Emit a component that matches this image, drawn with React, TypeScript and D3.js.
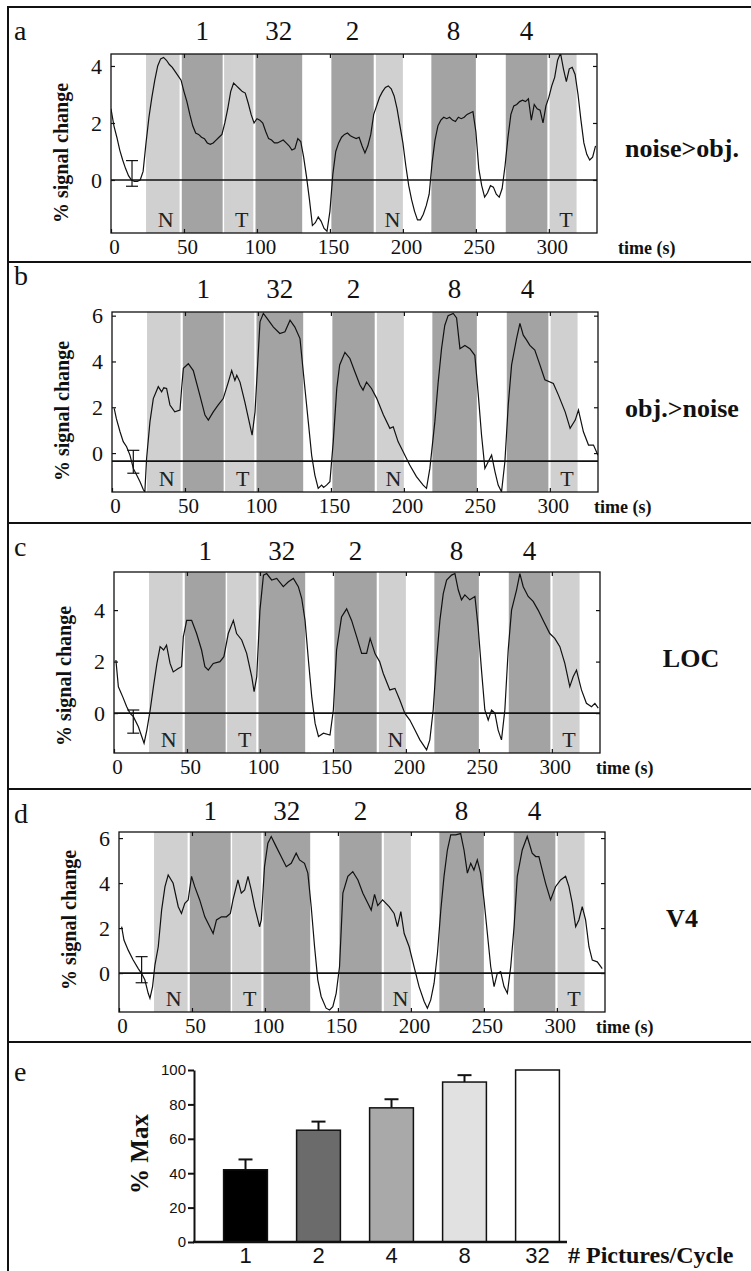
import React, { useEffect, useRef } from 'react';
import * as d3 from 'd3';

// stimulus epochs (seconds)
const timeMax = 333;
const timeTicks = [0, 50, 100, 150, 200, 250, 300];
const epochStart = [24, 48.5, 77.5, 99, 151, 181.5, 219.5, 270.5, 300.5];
const epochEnd = [47, 76.5, 97.5, 131, 180, 200, 250, 299, 319];
const epochType = ['light', 'dark', 'light', 'dark', 'dark', 'light', 'dark', 'dark', 'light'];
const epochLabel = ['N', '1', 'T', '32', '2', 'N', '8', '4', 'T'];

// time courses, [time (s), % signal change]
const traceA: [number, number][] = [
  [0, 2.5], [2, 1.9], [4, 1.5], [6, 1.05], [8, 0.7], [10, 0.4], [12, 0.15], [14, 0.0], [16, -0.05], [18, -0.05],
  [20, 0.0], [22, 0.3], [24, 1.3], [26, 2.2], [28, 2.9], [30, 3.5], [32, 4.0], [34, 4.25], [36, 4.3], [38, 4.2],
  [40, 4.05], [42, 3.95], [44, 3.8], [46, 3.65], [48, 3.5], [50, 3.1], [52, 2.75], [54, 2.3], [56, 1.9], [58, 1.65],
  [60, 1.6], [62, 1.5], [64, 1.45], [66, 1.3], [68, 1.25], [70, 1.3], [72, 1.4], [74, 1.5], [76, 1.6], [78, 2.0],
  [80, 2.5], [82, 3.1], [84, 3.4], [86, 3.3], [88, 3.2], [90, 3.1], [92, 3.05], [94, 2.7], [96, 2.3], [98, 2.0],
  [100, 2.15], [102, 2.1], [104, 2.0], [106, 1.7], [108, 1.45], [110, 1.4], [112, 1.3], [114, 1.3], [116, 1.35], [118, 1.4],
  [120, 1.3], [122, 1.2], [124, 1.05], [126, 1.1], [128, 1.45], [130, 1.35], [132, 0.8], [134, 0.1], [136, -0.7], [138, -1.6],
  [140, -1.5], [142, -1.3], [144, -1.45], [146, -1.7], [148, -1.8], [150, -1.1], [152, 0.2], [154, 1.0], [156, 1.3], [158, 1.5],
  [160, 1.6], [162, 1.65], [164, 1.55], [166, 1.5], [168, 1.45], [170, 1.5], [172, 1.2], [174, 0.95], [176, 1.2], [178, 1.6],
  [180, 2.3], [182, 2.6], [184, 2.9], [186, 3.1], [188, 3.25], [190, 3.3], [192, 3.2], [194, 2.95], [196, 2.5], [198, 1.9],
  [200, 1.3], [202, 0.5], [204, -0.2], [206, -0.7], [208, -1.1], [210, -1.4], [212, -1.4], [214, -1.2], [216, -0.9], [218, -0.5],
  [220, 0.6], [222, 1.4], [224, 1.9], [226, 2.1], [228, 2.2], [230, 2.15], [232, 2.2], [234, 2.1], [236, 2.05], [238, 2.2],
  [240, 2.15], [242, 2.2], [244, 2.3], [246, 2.35], [248, 2.4], [250, 1.7], [252, 0.4], [254, -0.2], [256, -0.6], [258, -0.45],
  [260, -0.2], [262, -0.25], [264, -0.5], [266, -0.6], [268, -0.3], [270, 0.5], [272, 1.5], [274, 2.3], [276, 2.6], [278, 2.65],
  [280, 2.75], [282, 2.8], [284, 2.75], [286, 2.85], [288, 2.1], [290, 2.65], [292, 2.5], [294, 2.45], [296, 2.0], [298, 2.6],
  [300, 2.9], [302, 3.3], [304, 3.6], [306, 4.2], [308, 4.45], [310, 3.9], [312, 3.45], [314, 3.9], [316, 3.95], [318, 3.7],
  [320, 3.0], [322, 2.1], [324, 1.3], [326, 0.9], [328, 0.7], [330, 0.8], [332, 1.2],
];

const traceB: [number, number][] = [
  [1.5, 1.95], [3, 1.5], [5.5, 0.93], [7.7, 0.5], [10, 0.28], [12.3, -0.09], [14.6, -0.67], [16.9, -0.96], [19.2, -1.25], [21.5, -1.6],
  [22.5, -1.7], [23.7, -0.24], [26, 1.36], [28.3, 2.38], [31.7, 2.9], [34, 2.67], [35.5, 2.85], [37.4, 2.82], [39.7, 2.1], [43, 1.8],
  [46.6, 1.88], [47.7, 2.82], [48.9, 3.7], [52.3, 3.9], [55.7, 3.6], [60.3, 2.5], [63.7, 1.66], [66, 1.44], [69.4, 1.8], [72.8, 2.1],
  [76.2, 2.38], [79.7, 3.1], [82, 3.6], [84.2, 3.17], [85.5, 3.4], [87.7, 3.1], [91, 2.24], [94.5, 1.22], [96, 0.78], [98, 1.8],
  [101.4, 5.73], [103.7, 6.1], [106, 5.9], [110.6, 5.5], [115, 5.22], [118.5, 5.3], [122, 5.8], [125.3, 5.5], [128.8, 5.0], [132.2, 2.82],
  [134.5, 1.36], [136.8, -0.1], [139, -0.96], [141.3, -1.54], [143.6, -1.4], [145, -1.5], [147, -1.4], [149.3, -1.25], [151.6, 0.5], [154, 2.82],
  [156, 3.85], [159.6, 4.4], [163, 4.13], [166.4, 3.55], [169.9, 2.97], [172, 2.75], [174.4, 3.1], [177.8, 2.82], [181.3, 2.4], [186, 1.66],
  [190.4, 1.08], [192.7, 1.15], [196, 0.5], [199.5, 0.06], [204, -0.52], [208.6, -1.03], [213.2, -1.4], [215.5, -1.54], [217.8, -0.67], [221.2, 1.36],
  [223.5, 3.1], [225.8, 4.56], [228, 5.57], [230.3, 6.0], [233.8, 6.1], [236.1, 5.9], [238.4, 4.56], [241.8, 4.7], [245.2, 4.56], [248.6, 4.27],
  [251, 2.53], [253.2, 0.79], [255.5, -0.67], [257.8, -0.38], [260.1, -0.09], [262.4, -0.81], [264.6, -1.4], [266.9, -1.69], [269.2, -0.38], [271.5, 2.1],
  [273.8, 3.85], [277.2, 5.0], [279.5, 5.66], [281.8, 5.15], [284, 4.94], [286.3, 4.7], [289.7, 4.5], [293.2, 3.85], [296.6, 3.2], [302.4, 3.04],
  [305.9, 2.53], [310.5, 1.8], [313.9, 1.08], [317.4, 1.44], [319.6, 1.88], [323, 0.93], [326.5, 0.35], [329.9, 0.35], [333, -0.09],
];

const traceC: [number, number][] = [
  [1.3, 2.06], [3, 1.02], [6, 0.63], [8.7, 0.25], [11, -0.01], [13.3, -0.14], [16.7, -0.53], [19, -0.91], [20.6, -1.17], [22.5, -0.66],
  [24.8, 0.12], [27, 1.02], [29.4, 1.93], [31.6, 2.58], [34, 2.45], [36, 2.64], [38.4, 1.93], [40.6, 1.6], [44, 1.73], [46.3, 1.8],
  [47.5, 2.96], [49.8, 3.6], [53.2, 3.6], [56.6, 3.09], [60, 2.45], [62.3, 1.8], [64.6, 1.67], [68, 1.93], [72.6, 2.0], [75.3, 2.19],
  [78.3, 3.09], [81.8, 3.6], [84, 3.09], [87.5, 2.84], [90.9, 2.32], [94.4, 1.41], [96, 0.83], [97.8, 1.41], [100, 4.0], [102.4, 5.36],
  [104.6, 5.42], [108, 5.17], [111.5, 5.23], [116, 4.91], [119.5, 5.1], [122.9, 5.23], [126.3, 4.91], [128.6, 4.46], [130.9, 3.6], [133.2, 2.06],
  [135.5, 0.63], [137.8, -0.4], [140.1, -0.91], [143.5, -0.78], [148, -0.85], [150.3, 0.12], [152.5, 2.45], [155.9, 3.73], [159.4, 4.05], [162.8, 3.6],
  [166.3, 2.96], [169.7, 2.32], [173.1, 2.32], [175.5, 2.9], [178.9, 2.3], [182, 2.0], [184.5, 1.54], [189, 0.9], [192.5, 0.96], [195.9, 0.5],
  [199.3, -0.01], [202.7, -0.27], [206.2, -0.66], [209.6, -1.04], [214.2, -1.43], [216.4, -1.04], [218.7, 0.12], [221, 2.06], [223.3, 3.6], [225.6, 4.64],
  [227.9, 5.17], [231.3, 5.36], [233.6, 5.42], [235.9, 4.78], [238.1, 4.4], [240.4, 4.59], [243.8, 4.4], [247.3, 4.53], [249.5, 3.35], [251.8, 1.67],
  [254.1, 0.12], [256.4, -0.27], [258.7, 0.12], [261, 0], [263.2, -0.66], [265.5, -1.04], [267.8, 0.12], [270.1, 2.45], [272.4, 4.0], [275.8, 4.78],
  [278.1, 5.42], [280.4, 4.91], [283.8, 4.53], [287.2, 4.34], [290.6, 4.0], [294.1, 3.6], [298.6, 3.09], [302, 2.9], [305.5, 2.58], [308.9, 1.93],
  [312.3, 1.03], [314.6, 1.41], [316.9, 1.67], [320.3, 0.9], [323.7, 0.38], [327.2, 0.25], [329.5, 0.38], [331.8, 0.19],
];

const traceD: [number, number][] = [
  [1.8, 2.06], [3.4, 1.47], [6.3, 1.02], [9.7, 0.58], [13.2, 0.2], [15.4, -0.01], [17.7, -0.3], [20, -0.9], [21.2, -1.12], [23, -0.6],
  [24.6, 0.35], [26.9, 1.17], [29.2, 2.8], [31.5, 3.84], [33.7, 4.36], [37.1, 3.99], [40.6, 2.95], [42.8, 2.65], [45.1, 3.1], [47.4, 3.25],
  [49.7, 4.3], [51.9, 3.84], [55.3, 3.25], [58.8, 2.5], [62.2, 2.06], [64.5, 1.76], [66.8, 2.36], [70.2, 2.5], [73.6, 2.5], [76.3, 2.65],
  [78.1, 3.25], [81.5, 4.14], [83.8, 3.55], [86.1, 3.7], [88.4, 4.3], [90.6, 3.7], [92.9, 2.95], [96.3, 2.06], [97.5, 2.36], [99.7, 4.73],
  [102, 5.77], [104.3, 6.07], [107.7, 5.62], [111.1, 5.18], [114.6, 4.73], [118, 4.88], [121.4, 5.33], [123.7, 5.03], [127.1, 4.88], [129.4, 4.44],
  [131.7, 2.95], [134, 1.17], [136.2, -0.3], [138.5, -1.04], [141.9, -1.56], [144.3, -1.64], [146.5, -1.49], [148.8, -0.9], [151.1, 0.28], [153.4, 3.55],
  [156.8, 4.3], [160.2, 4.51], [163.7, 4.14], [167.1, 3.55], [170.5, 3.1], [172.8, 2.8], [175.1, 3.5], [177.3, 3.0], [180.6, 3.25], [185.1, 2.95],
  [188.5, 2.65], [190.8, 2.06], [193.1, 2.73], [195.4, 1.76], [198.8, 1.17], [202.2, 0.28], [205.6, -0.6], [209.1, -1.26], [211.3, -1.56], [213.6, -1.19],
  [215.9, -0.45], [218.2, 0.88], [220.5, 2.8], [222.7, 4.3], [225, 5.47], [227.3, 6.14], [230.7, 6.14], [234.1, 6.2], [236.4, 5.47], [238.7, 4.44],
  [241, 4.88], [243.2, 4.58], [245.5, 5.03], [247.8, 4.44], [250.1, 3.25], [252.4, 1.76], [254.7, 0.28], [257, -0.6], [259.2, -0.01], [261.5, 0.06],
  [263.8, -0.6], [266.1, -0.9], [268.4, 0.28], [270.7, 2.06], [272.9, 4.3], [276.3, 5.47], [279.7, 6.07], [283.1, 5.33], [285.5, 5.18], [287.7, 5.18],
  [290, 4.58], [292.3, 3.99], [295.7, 3.25], [299.1, 3.84], [302.6, 4.14], [306, 4.3], [308.3, 3.84], [310.6, 3.1], [312.9, 2.06], [315.1, 2.36],
  [317.4, 2.95], [319.7, 2.36], [322, 1.17], [324.3, 0.58], [327.7, 0.5], [331.1, 0.2],
];

const traces = [traceA, traceB, traceC, traceD];
const panelLetters = ['a', 'b', 'c', 'd'];
const regionNames = ['noise>obj.', 'obj.>noise', 'LOC', 'V4'];
const yTicks = [[0, 2, 4], [0, 2, 4, 6], [0, 2, 4], [0, 2, 4, 6]];
const baselineValues = [0, -0.35, 0, 0];
const errTime = [14.4, 14.6, 13.2, 15.5];
const errMean = [0.23, -0.38, -0.33, 0.15];
const errHalf = [0.45, 0.5, 0.45, 0.58];

// panel e
const picturesPerCycle = ['1', '2', '4', '8', '32'];
const pctMax = [42, 65, 78, 93, 100];
const pctMaxErr = [6, 5, 5, 4, 0];
const pctTicks = [0, 20, 40, 60, 80, 100];
const barFills = ['#000000', '#6b6b6b', '#a9a9a9', '#e1e1e1', '#ffffff'];

const panelLayout = [
  { x0: 111, top: 54, bottom: 233, yMin: -1.86, yMax: 4.42, letterY: 40, numY: 40, nameX: 682, nameY: 157, timeX: 618, titleY: 153 },
  { x0: 112, top: 312, bottom: 492, yMin: -1.7, yMax: 6.16, letterY: 285, numY: 298, nameX: 682, nameY: 417, timeX: 594, titleY: 411 },
  { x0: 114, top: 572, bottom: 753, yMin: -1.55, yMax: 5.48, letterY: 556, numY: 560, nameX: 691, nameY: 667, timeX: 596, titleY: 676 },
  { x0: 119, top: 832, bottom: 1012, yMin: -1.73, yMax: 6.27, letterY: 823, numY: 820, nameX: 682, nameY: 927, timeX: 596, titleY: 920 },
];
const plotWidth = 486;

const serif = '"Liberation Serif", "Times New Roman", serif';
const sans = '"Liberation Sans", Arial, sans-serif';
const lightFill = '#d0d0d0';
const darkFill = '#a3a3a3';

export default function App() {
  const ref = useRef<SVGSVGElement>(null);

  useEffect(() => {
    const svg = d3.select(ref.current);
    svg.selectAll('*').remove();

    // outer frame and panel dividers
    const dividers = [7, 262, 523, 789, 1042];
    svg
      .selectAll('line.divider')
      .data(dividers)
      .enter()
      .append('line')
      .attr('class', 'divider')
      .attr('x1', 8)
      .attr('x2', 751)
      .attr('y1', (d) => d)
      .attr('y2', (d) => d)
      .attr('stroke', '#111')
      .attr('stroke-width', 2);
    svg
      .append('line')
      .attr('x1', 8)
      .attr('x2', 8)
      .attr('y1', 6)
      .attr('y2', 1271)
      .attr('stroke', '#111')
      .attr('stroke-width', 2);

    const epochs = epochStart.map((s, k) => ({ s, e: epochEnd[k], type: epochType[k], label: epochLabel[k] }));

    traces.forEach((trace, i) => {
      const L = panelLayout[i];
      const x = d3.scaleLinear().domain([0, timeMax]).range([L.x0, L.x0 + plotWidth]);
      const y = d3.scaleLinear().domain([L.yMin, L.yMax]).range([L.bottom, L.top]);
      const g = svg.append('g');

      g.append('clipPath')
        .attr('id', 'clip' + i)
        .append('rect')
        .attr('x', L.x0)
        .attr('y', L.top)
        .attr('width', plotWidth)
        .attr('height', L.bottom - L.top);

      g.selectAll('rect.epoch')
        .data(epochs)
        .enter()
        .append('rect')
        .attr('class', 'epoch')
        .attr('x', (d) => x(d.s))
        .attr('width', (d) => x(d.e) - x(d.s))
        .attr('y', L.top)
        .attr('height', L.bottom - L.top)
        .attr('fill', (d) => (d.type === 'dark' ? darkFill : lightFill));

      // N / T labels in the light epochs
      g.selectAll('text.epochlab')
        .data(epochs.filter((d) => d.type === 'light'))
        .enter()
        .append('text')
        .attr('x', (d) => x((d.s + d.e) / 2) + 3)
        .attr('y', L.bottom - 6)
        .attr('text-anchor', 'middle')
        .attr('font-family', serif)
        .attr('font-size', 22)
        .attr('fill', '#222')
        .text((d) => d.label);

      // pictures per cycle above the object epochs
      g.selectAll('text.cond')
        .data(epochs.filter((d) => d.type === 'dark'))
        .enter()
        .append('text')
        .attr('x', (d) => x((d.s + d.e) / 2))
        .attr('y', L.numY)
        .attr('text-anchor', 'middle')
        .attr('font-family', serif)
        .attr('font-size', 27)
        .attr('fill', '#111')
        .text((d) => d.label);

      g.append('line')
        .attr('x1', x(0))
        .attr('x2', x(timeMax))
        .attr('y1', y(baselineValues[i]))
        .attr('y2', y(baselineValues[i]))
        .attr('stroke', '#111')
        .attr('stroke-width', 1.6);

      const line = d3
        .line<[number, number]>()
        .x((d) => x(d[0]))
        .y((d) => y(d[1]));
      g.append('path')
        .datum(trace)
        .attr('d', line)
        .attr('clip-path', `url(#clip${i})`)
        .attr('fill', 'none')
        .attr('stroke', '#111')
        .attr('stroke-width', 1.2);

      // error bar of the fixation baseline
      const ex = x(errTime[i]);
      const eTop = y(errMean[i] + errHalf[i]);
      const eBot = y(errMean[i] - errHalf[i]);
      g.append('line').attr('x1', ex).attr('x2', ex).attr('y1', eTop).attr('y2', eBot).attr('stroke', '#111').attr('stroke-width', 1.2);
      [eTop, eBot].forEach((yy) => {
        g.append('line').attr('x1', ex - 6).attr('x2', ex + 6).attr('y1', yy).attr('y2', yy).attr('stroke', '#111').attr('stroke-width', 1.2);
      });

      g.append('rect')
        .attr('x', L.x0)
        .attr('y', L.top)
        .attr('width', plotWidth)
        .attr('height', L.bottom - L.top)
        .attr('fill', 'none')
        .attr('stroke', '#111')
        .attr('stroke-width', 1.3);

      const left = g
        .append('g')
        .attr('transform', `translate(${L.x0},0)`)
        .call(d3.axisLeft(y).tickValues(yTicks[i]).tickSize(-4).tickPadding(9).tickFormat(d3.format('d')));
      const right = g
        .append('g')
        .attr('transform', `translate(${L.x0 + plotWidth},0)`)
        .call(d3.axisRight(y).tickValues(yTicks[i]).tickSize(-4).tickFormat(() => ''));
      const bottom = g
        .append('g')
        .attr('transform', `translate(0,${L.bottom})`)
        .call(d3.axisBottom(x).tickValues(timeTicks).tickSize(-4).tickPadding(6).tickFormat(d3.format('d')));
      const top = g
        .append('g')
        .attr('transform', `translate(0,${L.top})`)
        .call(d3.axisTop(x).tickValues(timeTicks.slice(1)).tickSize(-4).tickFormat(() => ''));
      [left, right, bottom, top].forEach((a) => {
        a.select('.domain').remove();
        a.selectAll('line').attr('stroke', '#111').attr('stroke-width', 1.2);
        a.selectAll('text').attr('font-family', serif).attr('font-size', 22).attr('fill', '#111');
      });
      bottom.selectAll('text').attr('font-size', 21).attr('dx', 3);

      g.append('text')
        .attr('x', 14)
        .attr('y', L.letterY)
        .attr('font-family', serif)
        .attr('font-size', 28)
        .attr('fill', '#111')
        .text(panelLetters[i]);

      g.append('text')
        .attr('x', L.nameX)
        .attr('y', L.nameY)
        .attr('text-anchor', 'middle')
        .attr('font-family', serif)
        .attr('font-weight', 'bold')
        .attr('font-size', 26)
        .attr('fill', '#111')
        .text(regionNames[i]);

      g.append('text')
        .attr('x', L.timeX)
        .attr('y', L.bottom + 21)
        .attr('font-family', serif)
        .attr('font-weight', 'bold')
        .attr('font-size', 18)
        .attr('fill', '#111')
        .text('time (s)');

      g.append('text')
        .attr('transform', `translate(${L.x0 - 43},${L.titleY}) rotate(-90)`)
        .attr('text-anchor', 'middle')
        .attr('font-family', serif)
        .attr('font-weight', 'bold')
        .attr('font-size', 20)
        .attr('fill', '#111')
        .text('% signal change');
    });

    // panel e: bar chart
    const ge = svg.append('g');
    const xb = d3.scaleBand().domain(picturesPerCycle).range([209, 574]).paddingInner(0.4).paddingOuter(0.2);
    const yb = d3.scaleLinear().domain([0, 100]).range([1242, 1070]);
    const bars = picturesPerCycle.map((c, k) => ({ c, v: pctMax[k], err: pctMaxErr[k], fill: barFills[k] }));

    ge.selectAll('line.err')
      .data(bars.filter((d) => d.err > 0))
      .enter()
      .append('line')
      .attr('x1', (d) => (xb(d.c) as number) + xb.bandwidth() / 2)
      .attr('x2', (d) => (xb(d.c) as number) + xb.bandwidth() / 2)
      .attr('y1', (d) => yb(d.v))
      .attr('y2', (d) => yb(d.v + d.err))
      .attr('stroke', '#111')
      .attr('stroke-width', 2);
    ge.selectAll('line.cap')
      .data(bars.filter((d) => d.err > 0))
      .enter()
      .append('line')
      .attr('x1', (d) => (xb(d.c) as number) + xb.bandwidth() / 2 - 7)
      .attr('x2', (d) => (xb(d.c) as number) + xb.bandwidth() / 2 + 7)
      .attr('y1', (d) => yb(d.v + d.err))
      .attr('y2', (d) => yb(d.v + d.err))
      .attr('stroke', '#111')
      .attr('stroke-width', 2);

    ge.selectAll('rect.bar')
      .data(bars)
      .enter()
      .append('rect')
      .attr('x', (d) => xb(d.c) as number)
      .attr('width', xb.bandwidth())
      .attr('y', (d) => yb(d.v))
      .attr('height', (d) => yb(0) - yb(d.v))
      .attr('fill', (d) => d.fill)
      .attr('stroke', '#111')
      .attr('stroke-width', 1.5);

    const yAxis = ge
      .append('g')
      .attr('transform', 'translate(194,0)')
      .call(d3.axisLeft(yb).tickValues(pctTicks).tickSize(6).tickSizeOuter(0).tickPadding(2));
    yAxis.select('.domain').attr('stroke', '#111').attr('stroke-width', 2);
    yAxis.selectAll('line').attr('stroke', '#111').attr('stroke-width', 2);
    yAxis.selectAll('text').attr('font-family', sans).attr('font-size', 15).attr('fill', '#111');

    ge.append('line')
      .attr('x1', 193)
      .attr('x2', 567)
      .attr('y1', yb(0))
      .attr('y2', yb(0))
      .attr('stroke', '#111')
      .attr('stroke-width', 2.5);

    ge.selectAll('text.cat')
      .data(picturesPerCycle)
      .enter()
      .append('text')
      .attr('x', (d) => (xb(d) as number) + xb.bandwidth() / 2)
      .attr('y', 1263)
      .attr('text-anchor', 'middle')
      .attr('font-family', sans)
      .attr('font-size', 22)
      .attr('fill', '#111')
      .text((d) => d);

    ge.append('text')
      .attr('x', 568)
      .attr('y', 1263)
      .attr('font-family', serif)
      .attr('font-weight', 'bold')
      .attr('font-size', 24)
      .attr('fill', '#111')
      .text('# Pictures/Cycle');

    ge.append('text')
      .attr('transform', 'translate(148,1154) rotate(-90)')
      .attr('text-anchor', 'middle')
      .attr('font-family', serif)
      .attr('font-weight', 'bold')
      .attr('font-size', 25)
      .attr('fill', '#111')
      .text('% Max');

    ge.append('text')
      .attr('x', 14)
      .attr('y', 1081)
      .attr('font-family', serif)
      .attr('font-size', 28)
      .attr('fill', '#111')
      .text('e');
  }, []);

  return (
    <svg
      ref={ref}
      width={751}
      height={1271}
      style={{ position: 'absolute', left: 0, top: 0, background: '#fff' }}
    />
  );
}
